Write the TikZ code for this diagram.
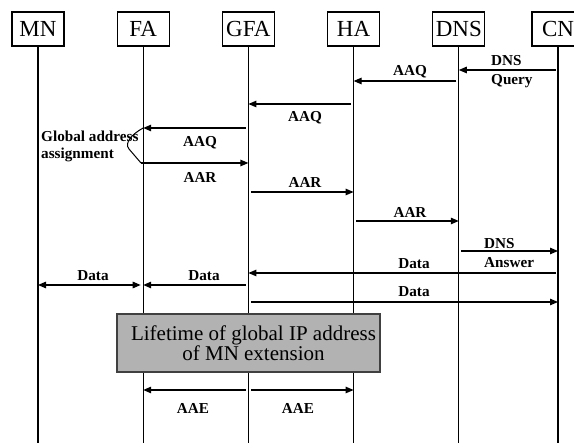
\documentclass[tikz,border=0pt]{standalone}
\usepackage{fontspec}
\setmainfont{Liberation Serif}
\usetikzlibrary{positioning,arrows.meta}

\begin{document}
\begin{tikzpicture}[x=1pt, y=-1pt, node distance=105.2pt, >={Triangle[length=8pt,width=6.5pt]},
  entity/.style={rectangle, draw, line width=1.2pt, minimum width=52pt, minimum height=34pt, inner sep=0pt, font=\fontsize{23}{24}\selectfont},
  lifeline/.style={line width=1.2pt},
  msg/.style={->, line width=1.2pt, shorten <=2.5pt},
  msglabel/.style={inner sep=0pt, font=\bfseries\fontsize{15.2}{17}\selectfont}]

\useasboundingbox (0,0) rectangle (574,443);

% Entities on top
\node (MN) [entity] at (38,29) {MN};
\node (FA) [entity, right of=MN] {FA};
\node (GFA) [entity, right of=FA] {GFA};
\node (HA) [entity, right of=GFA] {HA};
\node (DNS) [entity, right of=HA] {DNS};
\node (CN) [entity, right of=DNS, xshift=-6pt] {CN};

% Rows of the messages
\coordinate (bottom) at (0,445);
\coordinate (query) at (0,70);
\coordinate (aaq1) at (0,81);
\coordinate (aaq2) at (0,104);
\coordinate (aaq3) at (0,128);
\coordinate (aar1) at (0,163);
\coordinate (aar2) at (0,192);
\coordinate (aar3) at (0,221);
\coordinate (answer) at (0,251);
\coordinate (data1) at (0,273);
\coordinate (data2) at (0,285);
\coordinate (data3) at (0,302);
\coordinate (aae) at (0,390);

% Lifelines
\draw[lifeline] (MN.south) -- (MN.south |- bottom);
\draw[lifeline] (FA.south) -- (FA.south |- bottom);
\draw[lifeline] (GFA.south) -- (GFA.south |- bottom);
\draw[lifeline] (HA.south) -- (HA.south |- bottom);
\draw[lifeline] (DNS.south) -- (DNS.south |- bottom);
\draw[lifeline] (CN.south) -- (CN.south |- bottom);

% DNS query from CN
\draw[msg] (CN |- query) -- (DNS |- query);
\node (query_label) [msglabel, align=left, anchor=west] at (491,72) {DNS\\[2pt]Query};

% Address query
\draw[msg] (DNS |- aaq1) -- (HA |- aaq1);
\node (aaq1_label) [msglabel] at (410,72) {AAQ};
\draw[msg] (HA |- aaq2) -- (GFA |- aaq2);
\node (aaq2_label) [msglabel] at (305,118) {AAQ};
\draw[msg] (GFA |- aaq3) -- (FA |- aaq3);
\node (aaq3_label) [msglabel] at (200,143) {AAQ};

% Global address assignment in FA
\draw[line width=1pt] (FA |- aaq3) .. controls (132,134) and (124,143) .. (129,149) -- (141,163);
\node (assignment) [msglabel, align=left, anchor=west] at (41,146) {Global address\\assignment};

% Address reply
\draw[msg, shorten <=0pt] (141,163) -- (GFA |- aar1);
\node (aar1_label) [msglabel] at (200,177) {AAR};
\draw[msg] (GFA |- aar2) -- (HA |- aar2);
\node (aar2_label) [msglabel] at (305,182) {AAR};
\draw[msg] (HA |- aar3) -- (DNS |- aar3);
\node (aar3_label) [msglabel] at (410,212) {AAR};

% DNS answer to CN
\draw[msg] (DNS |- answer) -- (CN |- answer);
\node (answer_label) [msglabel, align=left, anchor=west] at (484,253) {DNS\\[2pt]Answer};

% Data
\draw[msg] (CN |- data1) -- (GFA |- data1);
\node (data1_label) [msglabel] at (414,264) {Data};
\draw[msg] (GFA |- data2) -- (FA |- data2);
\node (data2_label) [msglabel] at (204,276) {Data};
\draw[msg, <->, shorten <=0pt, shorten >=2.5pt] (MN |- data2) -- (FA |- data2);
\node (data0_label) [msglabel] at (93,276) {Data};
\draw[msg] (GFA |- data3) -- (CN |- data3);
\node (data3_label) [msglabel] at (414,292) {Data};

% Lifetime of the global address
\node (lifetime) [rectangle, draw=black!75, fill=gray!60, line width=1.2pt, minimum width=263pt, minimum height=58pt, align=center, font=\fontsize{21}{20}\selectfont] at (248.5,343) {\hspace*{10pt}Lifetime of global IP address\\\hspace*{10pt}of MN extension};

% Address extension
\draw[msg] (GFA |- aae) -- (FA |- aae);
\node (aae1_label) [msglabel] at (193,408) {AAE};
\draw[msg] (GFA |- aae) -- (HA |- aae);
\node (aae2_label) [msglabel] at (298,408) {AAE};

\end{tikzpicture}
\end{document}
